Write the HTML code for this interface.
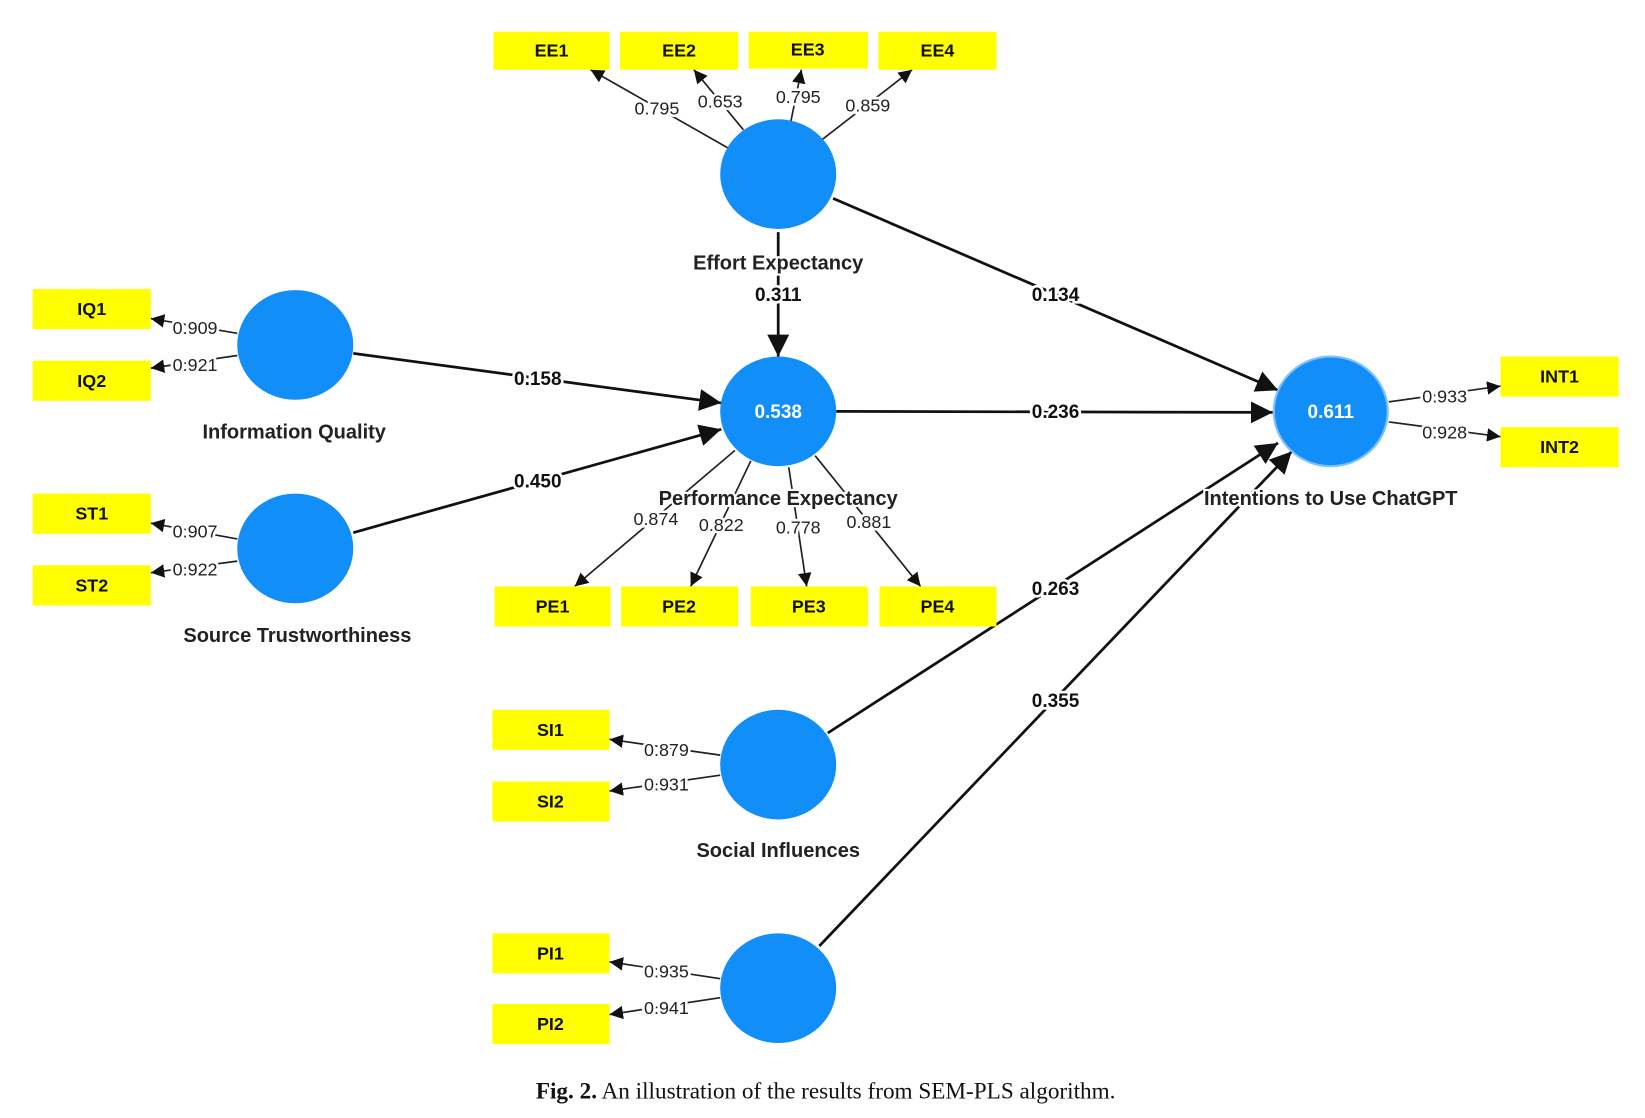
<!DOCTYPE html>
<html><head><meta charset="utf-8"><style>
html,body{margin:0;padding:0;background:#fff;}
svg{display:block;}
.box{fill:#ffff00;}
.bl{font:bold 17px "Liberation Sans",sans-serif;fill:#111;text-anchor:middle;dominant-baseline:central;}
.ld{font:17px "Liberation Sans",sans-serif;fill:#222;text-anchor:middle;dominant-baseline:central;stroke:#fff;stroke-width:5px;paint-order:stroke;}
.pl{font:bold 18px "Liberation Sans",sans-serif;fill:#111;text-anchor:middle;dominant-baseline:central;stroke:#fff;stroke-width:5px;paint-order:stroke;}
.nm{font:bold 19px "Liberation Sans",sans-serif;fill:#222;text-anchor:middle;dominant-baseline:central;stroke:#fff;stroke-width:4px;paint-order:stroke;}
.c{fill:#118ef7;}
.th{stroke:#222;stroke-width:1.6;fill:none;}
.tk{stroke:#111;stroke-width:2.6;fill:none;}
</style></head><body>
<svg width="1645" height="1118" viewBox="0 0 1560 1060" xmlns="http://www.w3.org/2000/svg">
<defs>
<marker id="a" viewBox="0 0 10 10" refX="10" refY="5" markerWidth="6" markerHeight="6" markerUnits="userSpaceOnUse" orient="auto" ><path d="M0,0L10,5L0,10z" fill="#111"/></marker>
<marker id="b" viewBox="0 0 10 10" refX="10" refY="5" markerWidth="8" markerHeight="8" orient="auto"><path d="M0,0L10,5L0,10z" fill="#111"/></marker>
</defs>
<g>
<!-- loading lines -->
<g class="th" marker-end="url(#b)">
<line x1="690" y1="140" x2="560" y2="66"/>
<line x1="705" y1="123" x2="658" y2="66"/>
<line x1="750" y1="115" x2="760" y2="66"/>
<line x1="780" y1="132" x2="865" y2="66"/>
<line x1="225" y1="316" x2="143" y2="302"/>
<line x1="225" y1="337" x2="143" y2="349"/>
<line x1="225" y1="511" x2="143" y2="496"/>
<line x1="225" y1="532" x2="143" y2="543"/>
<line x1="697" y1="427" x2="545" y2="556"/>
<line x1="712" y1="437" x2="655" y2="556"/>
<line x1="748" y1="443" x2="765" y2="556"/>
<line x1="773" y1="432" x2="873" y2="556"/>
<line x1="683" y1="716" x2="578" y2="701"/>
<line x1="683" y1="735" x2="578" y2="750"/>
<line x1="683" y1="928" x2="578" y2="912"/>
<line x1="683" y1="946" x2="578" y2="962"/>
<line x1="1317" y1="381" x2="1423" y2="366"/>
<line x1="1317" y1="400" x2="1423" y2="414"/>
</g>
<g class="tk" marker-end="url(#b)">
<line x1="738" y1="220" x2="738" y2="338"/>
<line x1="335" y1="335" x2="684" y2="382"/>
<line x1="335" y1="505" x2="684" y2="407"/>
<line x1="790" y1="188" x2="1212" y2="370"/>
<line x1="793" y1="390" x2="1207" y2="391"/>
<line x1="785" y1="695" x2="1212" y2="420"/>
<line x1="777" y1="897" x2="1225" y2="428"/>
</g>
<!-- boxes -->
<rect class="box" x="468" y="30" width="110" height="36"/><text class="bl" x="523" y="48">EE1</text>
<rect class="box" x="588" y="30" width="112" height="36"/><text class="bl" x="644" y="48">EE2</text>
<rect class="box" x="710" y="30" width="113" height="35"/><text class="bl" x="766" y="47">EE3</text>
<rect class="box" x="833" y="30" width="112" height="36"/><text class="bl" x="889" y="48">EE4</text>
<rect class="box" x="31" y="274" width="112" height="38"/><text class="bl" x="87" y="293">IQ1</text>
<rect class="box" x="31" y="342" width="112" height="38"/><text class="bl" x="87" y="361">IQ2</text>
<rect class="box" x="31" y="468" width="112" height="38"/><text class="bl" x="87" y="487">ST1</text>
<rect class="box" x="31" y="536" width="112" height="38"/><text class="bl" x="87" y="555">ST2</text>
<rect class="box" x="469" y="556" width="110" height="38"/><text class="bl" x="524" y="575">PE1</text>
<rect class="box" x="589" y="556" width="111" height="38"/><text class="bl" x="644" y="575">PE2</text>
<rect class="box" x="712" y="556" width="111" height="38"/><text class="bl" x="767" y="575">PE3</text>
<rect class="box" x="834" y="556" width="111" height="38"/><text class="bl" x="889" y="575">PE4</text>
<rect class="box" x="467" y="673" width="111" height="38"/><text class="bl" x="522" y="692">SI1</text>
<rect class="box" x="467" y="741" width="111" height="38"/><text class="bl" x="522" y="760">SI2</text>
<rect class="box" x="467" y="885" width="111" height="38"/><text class="bl" x="522" y="904">PI1</text>
<rect class="box" x="467" y="952" width="111" height="38"/><text class="bl" x="522" y="971">PI2</text>
<rect class="box" x="1423" y="338" width="112" height="38"/><text class="bl" x="1479" y="357">INT1</text>
<rect class="box" x="1423" y="405" width="112" height="38"/><text class="bl" x="1479" y="424">INT2</text>
<!-- circles -->
<ellipse class="c" cx="738" cy="165" rx="55" ry="52"/>
<ellipse class="c" cx="738" cy="390" rx="55" ry="52"/>
<ellipse class="c" cx="1262" cy="390" rx="54" ry="52" stroke="#7cc0ff" stroke-width="2"/>
<ellipse class="c" cx="280" cy="327" rx="55" ry="52"/>
<ellipse class="c" cx="280" cy="520" rx="55" ry="52"/>
<ellipse class="c" cx="738" cy="725" rx="55" ry="52"/>
<ellipse class="c" cx="738" cy="937" rx="55" ry="52"/>
<text x="738" y="391" style="font:bold 18px 'Liberation Sans',sans-serif;fill:#fff;text-anchor:middle;dominant-baseline:central">0.538</text>
<text x="1262" y="391" style="font:bold 18px 'Liberation Sans',sans-serif;fill:#fff;text-anchor:middle;dominant-baseline:central">0.611</text>
<!-- loading labels -->
<text class="ld" x="623" y="103">0.795</text>
<text class="ld" x="683" y="96">0.653</text>
<text class="ld" x="757" y="92">0.795</text>
<text class="ld" x="823" y="100">0.859</text>
<text class="ld" x="185" y="311">0.909</text>
<text class="ld" x="185" y="346">0.921</text>
<text class="ld" x="185" y="504">0.907</text>
<text class="ld" x="185" y="540">0.922</text>
<text class="ld" x="622" y="492">0.874</text>
<text class="ld" x="684" y="498">0.822</text>
<text class="ld" x="757" y="500">0.778</text>
<text class="ld" x="824" y="495">0.881</text>
<text class="ld" x="632" y="711">0.879</text>
<text class="ld" x="632" y="744">0.931</text>
<text class="ld" x="632" y="921">0.935</text>
<text class="ld" x="632" y="956">0.941</text>
<text class="ld" x="1370" y="376">0.933</text>
<text class="ld" x="1370" y="410">0.928</text>
<!-- names -->
<text class="nm" x="738" y="250">Effort Expectancy</text>
<text class="pl" x="738" y="280">0.311</text>
<text class="pl" x="510" y="360">0.158</text>
<text class="pl" x="510" y="457">0.450</text>
<text class="pl" x="1001" y="280">0.134</text>
<text class="pl" x="1001" y="391">0.236</text>
<text class="pl" x="1001" y="559">0.263</text>
<text class="pl" x="1001" y="665">0.355</text>
<text class="nm" x="279" y="410">Information Quality</text>
<text class="nm" x="282" y="603">Source Trustworthiness</text>
<text class="nm" x="738" y="473">Performance Expectancy</text>
<text class="nm" x="1262" y="473">Intentions to Use ChatGPT</text>
<text class="nm" x="738" y="807">Social Influences</text>
<text x="783" y="1035" style="font:22px 'Liberation Serif',serif;fill:#111;text-anchor:middle;dominant-baseline:central"><tspan font-weight="bold">Fig. 2.</tspan>  An illustration of the results from SEM-PLS algorithm.</text>
</g>
</svg>
</body></html>
